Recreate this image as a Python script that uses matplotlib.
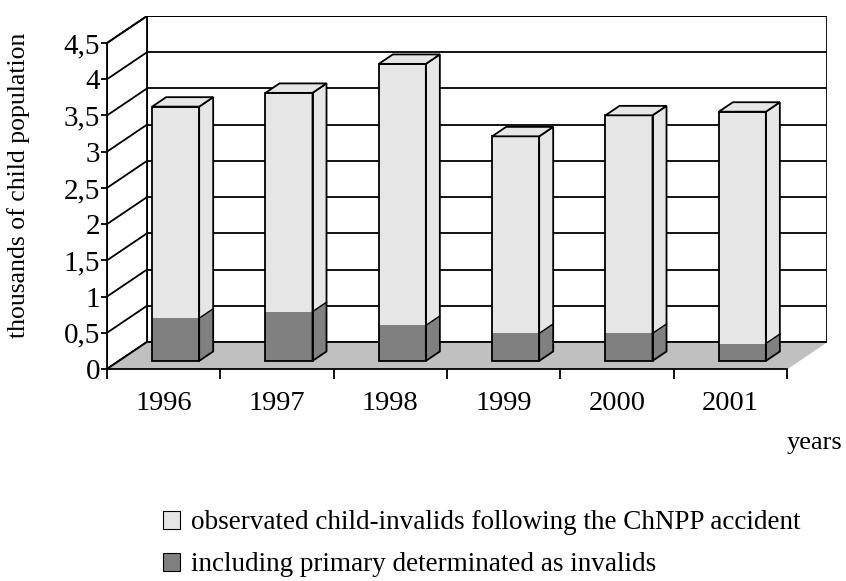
import matplotlib.pyplot as plt
from matplotlib.patches import Polygon, Patch

plt.rcParams['font.family'] = ['Liberation Serif', 'DejaVu Serif']

# data
years = ['1996', '1997', '1998', '1999', '2000', '2001']
observed = [3.51, 3.70, 4.10, 3.10, 3.39, 3.44]
primary = [0.59, 0.68, 0.49, 0.38, 0.38, 0.24]
yticks = [0, 0.5, 1, 1.5, 2, 2.5, 3, 3.5, 4, 4.5]
legend_labels = ['observated child-invalids following the ChNPP accident',
                 'including primary determinated as invalids']

light = '#e6e6e6'
dark = '#808080'
floor_c = '#c0c0c0'

fig = plt.figure(figsize=(8.46, 5.81), dpi=100)
# axes: front plane from x=107..787 px, y=369..(4.5 at 43) px
ax = fig.add_axes([107 / 846, 212 / 581, 720 / 846, 353 / 581])

n = len(years)
x0, x1 = -0.5, n - 0.5
ymax = 4.5
DX = 40 / (680 / n)      # depth offset in data units
DY = 27 / (326 / ymax)
ax.set_xlim(x0, x1 + DX)
ax.set_ylim(0, ymax + DY)

def poly(pts, fc, ec='black', lw=1.3, z=1):
    ax.add_patch(Polygon(pts, closed=True, facecolor=fc, edgecolor=ec,
                         linewidth=lw, zorder=z, joinstyle='miter'))

# back wall
poly([(x0 + DX, DY), (x1 + DX, DY), (x1 + DX, ymax + DY), (x0 + DX, ymax + DY)], 'white', z=1)
for v in yticks[1:]:
    ax.plot([x0 + DX, x1 + DX], [v + DY, v + DY], color='black', lw=1.3, zorder=1.5)
# left wall
poly([(x0, 0), (x0 + DX, DY), (x0 + DX, ymax + DY), (x0, ymax)], 'white', z=1)
for v in yticks:
    ax.plot([x0, x0 + DX], [v, v + DY], color='black', lw=1.3, zorder=1.5)
# floor
poly([(x0, 0), (x0 + DX, DY), (x1 + DX, DY), (x1, 0)], floor_c, ec=floor_c, lw=0.5, z=2)
ax.plot([x0 + DX, x1 + DX], [DY, DY], color='black', lw=1.3, zorder=2.1)
ax.plot([x0, x0 + DX], [0, DY], color='black', lw=1.3, zorder=2.1)

# bars
w = 0.415
f0, f1 = 0.30, 0.65
for i in range(n):
    xl = i - w / 2 + f0 * DX
    xr = i + w / 2 + f0 * DX
    yb = f0 * DY
    top = yb + observed[i]
    mid = yb + primary[i]
    ddx, ddy = (f1 - f0) * DX, (f1 - f0) * DY
    z = 3 + i * 0.1
    # front face
    poly([(xl, yb), (xr, yb), (xr, mid), (xl, mid)], dark, ec='none', z=z)
    poly([(xl, mid), (xr, mid), (xr, top), (xl, top)], light, ec='none', z=z)
    poly([(xl, yb), (xr, yb), (xr, top), (xl, top)], 'none', z=z + 0.01)
    # side face
    poly([(xr, yb), (xr + ddx, yb + ddy), (xr + ddx, mid + ddy), (xr, mid)], dark, ec='none', z=z)
    poly([(xr, mid), (xr + ddx, mid + ddy), (xr + ddx, top + ddy), (xr, top)], light, ec='none', z=z)
    poly([(xr, yb), (xr + ddx, yb + ddy), (xr + ddx, top + ddy), (xr, top)], 'none', z=z + 0.01)
    ax.plot([xr, xr + ddx], [mid, mid + ddy], color='black', lw=1.0, zorder=z + 0.01)
    # top face
    poly([(xl, top), (xr, top), (xr + ddx, top + ddy), (xl + ddx, top + ddy)], light, z=z + 0.01)

# axes spines / ticks
for s in ['top', 'right']:
    ax.spines[s].set_visible(False)
ax.spines['left'].set_bounds(0, ymax)
ax.spines['bottom'].set_bounds(x0, x1)
ax.spines['left'].set_linewidth(1.3)
ax.spines['bottom'].set_linewidth(1.3)
ax.spines['left'].set_zorder(5)
ax.spines['bottom'].set_zorder(5)

ax.set_yticks(yticks)
ax.set_yticklabels([str(v).replace('.', ',').replace(',0', '') if v != 0 else '0' for v in yticks],
                   fontsize=21)
ax.tick_params(axis='y', direction='out', length=4, width=1.3, pad=1)
ax.set_xticks([x0 + k for k in range(n + 1)])
ax.set_xticklabels([])
ax.set_xticks(range(n), minor=True)
ax.set_xticklabels(years, minor=True, fontsize=20.5)
ax.tick_params(axis='x', which='major', direction='out', length=7, width=1.3)
ax.tick_params(axis='x', which='minor', length=0, pad=16)

fig.text(19 / 846, 1 - 185 / 581, 'thousands of child population', rotation=90,
         ha='center', va='center', fontsize=18.5)
fig.text(842 / 846, 1 - 443 / 581, 'years', ha='right', va='center', fontsize=19)

handles = [Patch(facecolor=light, edgecolor='black', linewidth=0.8),
           Patch(facecolor=dark, edgecolor='black', linewidth=0.8)]
fig.legend(handles, legend_labels, loc='upper left', bbox_to_anchor=(158 / 846, 1 - 505 / 581),
           frameon=False, fontsize=19.5, handlelength=0.6, handleheight=0.65,
           handletextpad=0.4, labelspacing=0.62, borderaxespad=0, borderpad=0.2)

fig.savefig('out.png', dpi=100)
